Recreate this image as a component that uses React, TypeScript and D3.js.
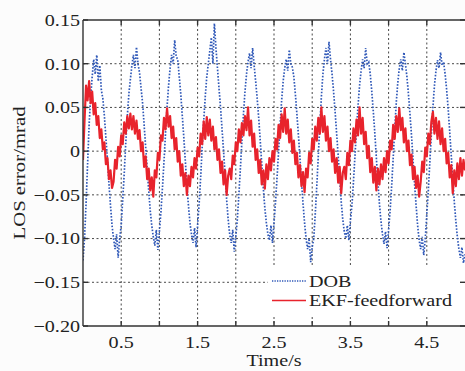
import { useEffect, useRef } from 'react';
import * as d3 from 'd3';

// samples every 0.02 s from 0 to 5 s, values in 0.001 mrad
const sampleStep = 0.02;

const dobValues = [
  -125, -100, -60, -15, 30, 62, 85, 105, 88, 110,
  80, 98, 70, 60, 40, 15, -10, -38, -62, -85,
  -100, -112, -95, -122, -100, -85, -55, -25, 10, 40,
  65, 82, 98, 110, 95, 119, 100, 90, 72, 55,
  30, 5, -20, -45, -68, -85, -98, -108, -90, -113,
  -92, -70, -42, -12, 20, 50, 75, 95, 110, 100,
  127, 108, 105, 85, 65, 40, 15, -12, -40, -62,
  -82, -95, -105, -88, -110, -85, -60, -30, 5, 35,
  62, 85, 100, 115, 130, 100, 146, 118, 95, 72,
  50, 25, 0, -28, -55, -78, -95, -105, -90, -115,
  -98, -78, -50, -20, 12, 42, 68, 88, 102, 112,
  95, 118, 98, 80, 60, 38, 12, -15, -42, -65,
  -82, -95, -102, -85, -105, -82, -58, -30, 0, 30,
  58, 80, 95, 105, 92, 116, 100, 96, 85, 65,
  42, 18, -8, -35, -60, -82, -100, -112, -100, -127,
  -110, -100, -72, -40, -5, 30, 62, 88, 105, 118,
  100, 125, 105, 88, 68, 45, 20, -5, -32, -58,
  -78, -92, -100, -85, -102, -80, -62, -35, -5, 25,
  52, 75, 92, 105, 95, 118, 100, 102, 88, 68,
  45, 20, -8, -35, -60, -80, -95, -106, -92, -111,
  -90, -68, -40, -8, 25, 55, 78, 95, 105, 92,
  113, 100, 85, 65, 42, 18, -10, -38, -62, -85,
  -102, -112, -98, -119, -100, -72, -45, -12, 20, 50,
  75, 92, 104, 95, 113, 98, 102, 88, 70, 48,
  22, -5, -32, -58, -80, -98, -112, -122, -110, -128,
  -118,
];

const ekfValues = [
  -10, 35, 75, 58, 80, 55, 68, 42, 55, 30,
  40, 15, 25, 2, 10, -15, -8, -32, -22, -42,
  -35, -10, -20, 5, -6, 18, 8, 33, 20, 40,
  26, 43, 25, 40, 20, 35, 14, 24, 0, 10,
  -18, -6, -32, -20, -45, -30, -52, -22, -30, -2,
  -10, 18, 12, 38, 25, 49, 28, 40, 15, 28,
  2, 15, -12, 0, -28, -15, -40, -25, -50, -28,
  -40, -18, -30, -8, -20, 4, -6, 20, 8, 34,
  14, 39, 18, 36, 12, 28, 2, 16, -10, 2,
  -25, -12, -38, -22, -50, -28, -20, -32, -5, -15,
  10, 0, 25, 10, 32, 18, 40, 24, 50, 18,
  35, 5, 20, -10, 2, -25, -10, -38, -22, -43,
  -15, -32, -8, -22, 0, -12, 14, 2, 30, 15,
  42, 22, 49, 20, 36, 10, 25, -2, 12, -15,
  -2, -30, -16, -40, -24, -47, -20, -30, -2, -14,
  14, 2, 28, 12, 38, 20, 50, 22, 40, 12,
  28, 0, 15, -12, 2, -25, -8, -36, -18, -48,
  -25, -18, -32, -2, -16, 12, 0, 26, 10, 36,
  18, 50, 20, 38, 8, 22, -8, 6, -24, -8,
  -36, -18, -45, -20, -38, -15, -32, -8, -24, 0,
  -14, 12, 2, 30, 14, 40, 22, 49, 24, 38,
  10, 26, 0, 12, -16, -4, -32, -18, -42, -28,
  -52, -35, -12, -24, 4, -6, 20, 8, 34, 45,
  20, 38, 14, 34, 8, 26, 0, 14, -14, -2,
  -30, -16, -48, -22, -40, -14, -32, -8, -28, -10,
  -22,
];

const yTicks = [150, 100, 50, 0, -50, -100, -150, -200];
const yTickLabels = ['0.15', '0.10', '0.05', '0', '\u22120.05', '\u22120.10', '\u22120.15', '\u22120.20'];
const xTicks = [0.5, 1, 1.5, 2, 2.5, 3, 3.5, 4, 4.5];
const xLabelTicks = [0.5, 1.5, 2.5, 3.5, 4.5];
const xTickLabels = ['0.5', '1.5', '2.5', '3.5', '4.5'];
const seriesNames = ['DOB', 'EKF-feedforward'];

export default function App() {
  const svgRef = useRef<SVGSVGElement>(null);

  useEffect(() => {
    const width = 465;
    const height = 371;
    const margin = { top: 20, right: 0, bottom: 45, left: 83 };
    const font = "'Liberation Serif', 'Times New Roman', serif";
    const stretch = 1.22;

    const svg = d3.select(svgRef.current);
    svg.selectAll('*').remove();
    svg.attr('width', width).attr('height', height);

    const x = d3.scaleLinear().domain([0, 5]).range([margin.left, width - margin.right]);
    const y = d3.scaleLinear().domain([-200, 150]).range([height - margin.bottom, margin.top]);

    svg.append('rect').attr('width', width).attr('height', height).attr('fill', '#fcfcfc');
    svg.append('rect')
      .attr('x', x(0)).attr('y', y(150))
      .attr('width', x(5) - x(0)).attr('height', y(-200) - y(150))
      .attr('fill', '#ffffff');

    svg.append('defs').append('clipPath').attr('id', 'plot-clip')
      .append('rect')
      .attr('x', x(0)).attr('y', y(150))
      .attr('width', x(5) - x(0)).attr('height', y(-200) - y(150));

    // grid
    const grid = svg.append('g').attr('stroke', '#333').attr('stroke-width', 0.9)
      .attr('stroke-dasharray', '2,2.5');
    xTicks.forEach(t => {
      grid.append('line').attr('x1', x(t)).attr('x2', x(t)).attr('y1', y(150)).attr('y2', y(-200));
    });
    yTicks.slice(1, -1).forEach(v => {
      grid.append('line').attr('x1', x(0)).attr('x2', x(5)).attr('y1', y(v)).attr('y2', y(v));
    });

    // series
    const line = d3.line<number>()
      .x((d, i) => x(i * sampleStep))
      .y(d => y(d));

    const plot = svg.append('g').attr('clip-path', 'url(#plot-clip)');
    plot.append('path')
      .datum(dobValues)
      .attr('fill', 'none')
      .attr('stroke', '#2f58b8')
      .attr('stroke-width', 1.7)
      .attr('stroke-dasharray', '1.6,1.6')
      .attr('d', line);
    plot.append('path')
      .datum(ekfValues)
      .attr('fill', 'none')
      .attr('stroke', '#e8232c')
      .attr('stroke-width', 2.2)
      .attr('stroke-linejoin', 'round')
      .attr('d', line);

    // legend
    const legend = svg.append('g');
    legend.append('rect')
      .attr('x', 268).attr('y', 266).attr('width', 197).attr('height', 51)
      .attr('fill', '#ffffff');
    const legendStyles = [
      { color: '#2f58b8', dash: '1.3,1.2', width: 1.4 },
      { color: '#e8232c', dash: null, width: 1.6 },
    ];
    seriesNames.forEach((name, i) => {
      const ly = 281 + i * 19.5;
      legend.append('line')
        .attr('x1', 272).attr('x2', 306).attr('y1', ly).attr('y2', ly)
        .attr('stroke', legendStyles[i].color)
        .attr('stroke-width', legendStyles[i].width)
        .attr('stroke-dasharray', legendStyles[i].dash);
      legend.append('text')
        .attr('transform', `translate(309,${ly + 5.8}) scale(${stretch},1)`)
        .attr('font-family', font).attr('font-size', 16.5).attr('fill', '#222')
        .text(name);
    });

    // axes frame and ticks
    const frame = svg.append('g').attr('stroke', '#333').attr('stroke-width', 1.4);
    frame.append('line').attr('x1', x(0)).attr('x2', x(0)).attr('y1', y(150)).attr('y2', y(-200));
    frame.append('line').attr('x1', x(0)).attr('x2', x(5)).attr('y1', y(150)).attr('y2', y(150));
    frame.append('line').attr('x1', x(0)).attr('x2', x(5)).attr('y1', y(-200)).attr('y2', y(-200));
    yTicks.forEach(v => {
      frame.append('line').attr('x1', x(0)).attr('x2', x(0) + 5).attr('y1', y(v)).attr('y2', y(v));
      frame.append('line').attr('x1', x(5) - 5).attr('x2', x(5)).attr('y1', y(v)).attr('y2', y(v));
    });
    xTicks.forEach(t => {
      frame.append('line').attr('x1', x(t)).attr('x2', x(t)).attr('y1', y(-200)).attr('y2', y(-200) - 5);
      frame.append('line').attr('x1', x(t)).attr('x2', x(t)).attr('y1', y(150)).attr('y2', y(150) + 5);
    });

    // tick labels
    yTicks.forEach((v, i) => {
      svg.append('text')
        .attr('transform', `translate(${x(0) - 3},${y(v) + 5.8}) scale(${stretch},1)`)
        .attr('text-anchor', 'end')
        .attr('font-family', font).attr('font-size', 16.5).attr('fill', '#222')
        .text(yTickLabels[i]);
    });
    xLabelTicks.forEach((t, i) => {
      svg.append('text')
        .attr('transform', `translate(${x(t)},${y(-200) + 22}) scale(${stretch},1)`)
        .attr('text-anchor', 'middle')
        .attr('font-family', font).attr('font-size', 16.5).attr('fill', '#222')
        .text(xTickLabels[i]);
    });

    // axis titles
    svg.append('text')
      .attr('transform', `translate(274,${height - 5}) scale(${stretch},1)`)
      .attr('text-anchor', 'middle')
      .attr('font-family', font).attr('font-size', 16.5).attr('fill', '#222')
      .text('Time/s');
    svg.append('text')
      .attr('transform', `translate(25,173) rotate(-90) scale(${stretch},1)`)
      .attr('text-anchor', 'middle')
      .attr('font-family', font).attr('font-size', 17).attr('fill', '#222')
      .text('LOS error/mrad');
  }, []);

  return (
    <div style={{ position: 'absolute', left: 0, top: 0 }}>
      <svg ref={svgRef} style={{ display: 'block' }}></svg>
    </div>
  );
}
